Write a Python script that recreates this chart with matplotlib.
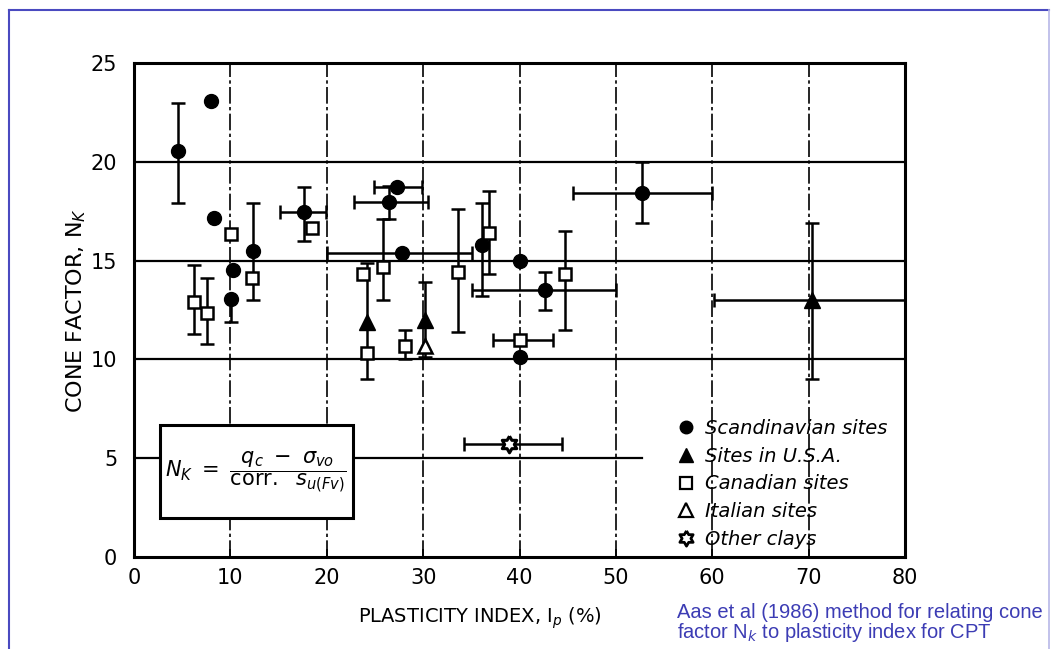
import numpy as np
import matplotlib
matplotlib.use("Agg")
import matplotlib.pyplot as plt
from matplotlib.lines import Line2D
from matplotlib.patches import Rectangle

nan = np.nan

# Scandinavian sites (filled circles)
scan_x = [4.6, 8.0, 8.3, 10.3, 10.1, 12.3, 17.6, 26.5, 27.3, 27.8, 36.1, 40.0, 40.0, 42.6, 52.7]
scan_y = [20.55, 23.1, 17.15, 14.5, 13.05, 15.5, 17.45, 17.95, 18.7, 15.4, 15.8, 15.0, 10.1, 13.5, 18.4]
scan_ylo = [17.9, nan, nan, nan, 11.9, 13.0, 16.0, 17.1, nan, nan, 13.2, nan, nan, 12.5, 16.9]
scan_yhi = [23.0, nan, nan, nan, 13.05, 17.9, 18.7, 18.8, nan, nan, 17.9, nan, nan, 14.4, 20.0]
scan_xlo = [nan, nan, nan, nan, nan, nan, 15.2, 22.8, 24.9, 20.0, nan, nan, nan, 35.1, 45.6]
scan_xhi = [nan, nan, nan, nan, nan, nan, 19.9, 30.5, 29.9, 35.1, nan, nan, nan, 50.0, 60.0]

# Sites in U.S.A. (filled triangles)
usa_x = [24.2, 30.2, 70.4]
usa_y = [11.9, 12.0, 13.0]
usa_ylo = [9.0, 10.1, 9.0]
usa_yhi = [14.9, 13.9, 16.9]
usa_xlo = [nan, nan, 60.2]
usa_xhi = [nan, nan, 81.0]

# Canadian sites (open squares)
can_x = [6.25, 7.6, 10.1, 12.2, 18.5, 23.8, 24.2, 25.8, 28.1, 33.6, 36.8, 40.1, 44.7]
can_y = [12.9, 12.35, 16.35, 14.1, 16.65, 14.3, 10.3, 14.7, 10.7, 14.4, 16.4, 11.0, 14.3]
can_ylo = [11.3, 10.8, nan, nan, nan, nan, nan, 13.0, 10.0, 11.4, 14.3, nan, 11.5]
can_yhi = [14.8, 14.1, nan, nan, nan, nan, nan, 17.1, 11.5, 17.6, 18.5, nan, 16.5]
can_xlo = [nan, nan, nan, nan, nan, nan, nan, nan, nan, nan, nan, 37.2, nan]
can_xhi = [nan, nan, nan, nan, nan, nan, nan, nan, nan, nan, nan, 43.5, nan]

# Italian sites (open triangles)
ita_x = [30.2]
ita_y = [10.7]

# Other clays
oth_x = [38.9]
oth_y = [5.7]
oth_xlo = [34.2]
oth_xhi = [44.4]

xticks = [0, 10, 20, 30, 40, 50, 60, 70, 80]
yticks = [0, 5, 10, 15, 20, 25]

fig = plt.figure(figsize=(10.51, 6.49), dpi=100)
ax = fig.add_axes([0.1275, 0.1418, 0.7336, 0.7611])
ax.set_xlim(0, 80)
ax.set_ylim(0, 25)


def bars(x, y, lo, hi, horiz=False):
    x = np.array(x, float)
    y = np.array(y, float)
    lo = np.array(lo, float)
    hi = np.array(hi, float)
    m = ~np.isnan(lo)
    if not m.any():
        return
    if horiz:
        ax.errorbar(x[m], y[m], xerr=[x[m] - lo[m], hi[m] - x[m]], fmt="none",
                    ecolor="black", elinewidth=1.8, capsize=5, capthick=1.8, zorder=4)
    else:
        ax.errorbar(x[m], y[m], yerr=[y[m] - lo[m], hi[m] - y[m]], fmt="none",
                    ecolor="black", elinewidth=1.8, capsize=5, capthick=1.8, zorder=4)


# grid
for yv in [10, 15, 20]:
    ax.axhline(yv, color="black", lw=1.6, zorder=1)
ax.plot([0, 52.7], [5, 5], color="black", lw=1.6, zorder=1)
for xv in [10, 20, 30, 40, 50, 60, 70]:
    ax.axvline(xv, color="black", lw=1.2, ls=(0, (10, 2, 2, 2)), zorder=1)

bars(scan_x, scan_y, scan_ylo, scan_yhi)
bars(scan_x, scan_y, scan_xlo, scan_xhi, horiz=True)
bars(usa_x, usa_y, usa_ylo, usa_yhi)
bars(usa_x, usa_y, usa_xlo, usa_xhi, horiz=True)
bars(can_x, can_y, can_ylo, can_yhi)
bars(can_x, can_y, can_xlo, can_xhi, horiz=True)
bars(oth_x, oth_y, oth_xlo, oth_xhi, horiz=True)

r = 1 / np.sqrt(3)
hexa = []
for k in range(6):
    a = np.deg2rad(90 + 60 * k)
    b = np.deg2rad(120 + 60 * k)
    hexa.append((np.cos(a), np.sin(a)))
    hexa.append((r * np.cos(b), r * np.sin(b)))
hexa.append(hexa[0])

ax.plot(scan_x, scan_y, "o", color="black", ms=10, zorder=6)
ax.plot(usa_x, usa_y, "^", color="black", ms=11, zorder=6)
ax.plot(can_x, can_y, "s", mfc="white", mec="black", mew=1.8, ms=8, zorder=6)
ax.plot(ita_x, ita_y, "^", mfc="white", mec="black", mew=1.8, ms=10, zorder=6)
ax.plot(oth_x, oth_y, marker=hexa, ls="none", mfc="white", mec="black", mew=2.2, ms=12, zorder=6)

# formula box
ax.add_patch(Rectangle((2.7, 1.97), 20.0, 4.71, facecolor="white", edgecolor="black",
                       lw=2.2, zorder=3))
ax.text(12.7, 4.3, r"$N_K\ =\ \dfrac{q_c\ -\ \sigma_{vo}}{\mathrm{corr.}\ \ s_{u(Fv)}}$",
        ha="center", va="center", fontsize=15, zorder=5)

# legend
handles = [
    Line2D([], [], ls="none", marker="o", color="black", ms=9),
    Line2D([], [], ls="none", marker="^", color="black", ms=10),
    Line2D([], [], ls="none", marker="s", mfc="white", mec="black", mew=1.6, ms=8),
    Line2D([], [], ls="none", marker="^", mfc="white", mec="black", mew=1.6, ms=10),
    Line2D([], [], ls="none", marker=hexa, mfc="white", mec="black", mew=2, ms=11),
]
labels = ["Scandinavian sites", "Sites in U.S.A.", "Canadian sites", "Italian sites", "Other clays"]
leg = ax.legend(handles, labels, loc="upper left", bbox_to_anchor=(0.68, 0.315),
                frameon=False, handlelength=1.0, handletextpad=0.5, labelspacing=0.45,
                prop={"style": "italic", "size": 14})
leg.set_zorder(7)

for s in ax.spines.values():
    s.set_linewidth(2.2)

ax.set_xticks(xticks)
ax.set_yticks(yticks)
ax.tick_params(axis="x", direction="in", length=6, width=1.2, pad=8, labelsize=15)
ax.tick_params(axis="y", length=0, pad=12, labelsize=15)

ax.set_ylabel(r"CONE FACTOR, N$_K$", fontsize=16, labelpad=2)
fig.text(0.457, 0.048, r"PLASTICITY INDEX, I$_p$ (%)", ha="center", va="center",
         fontsize=14)

fig.text(0.644, 0.057, "Aas et al (1986) method for relating cone", color="#3c3cb4",
         fontsize=14.5, family="Liberation Sans", va="center")
fig.text(0.644, 0.026, r"factor N$_k$ to plasticity index for CPT", color="#3c3cb4",
         fontsize=14.5, family="Liberation Sans", va="center")

# blue page frame
fig.add_artist(Line2D([9 / 1051, 9 / 1051], [0, 639 / 649], color="#4a4ac0", lw=1.5,
                      transform=fig.transFigure))
fig.add_artist(Line2D([9 / 1051, 1049 / 1051], [639 / 649, 639 / 649], color="#4a4ac0", lw=1.5,
                      transform=fig.transFigure))
fig.add_artist(Line2D([1049 / 1051, 1049 / 1051], [0, 639 / 649], color="#b8b8e8", lw=1.2,
                      transform=fig.transFigure))

fig.savefig("out.png", dpi=100)
